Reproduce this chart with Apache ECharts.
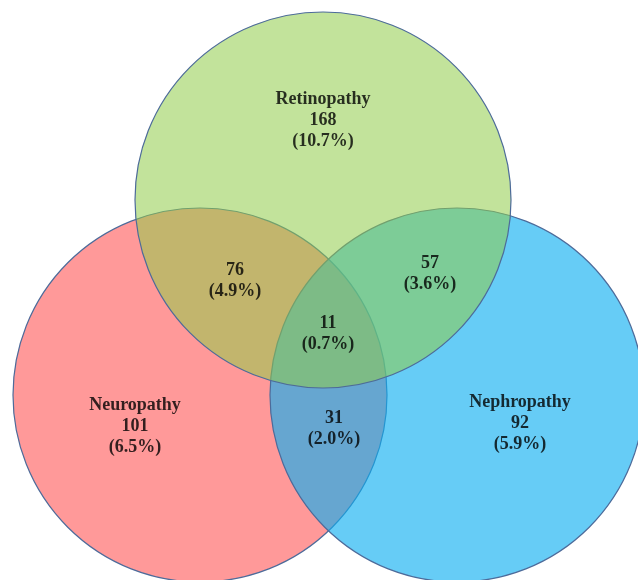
<!DOCTYPE html>
<html>
<head>
<meta charset="utf-8">
<script src="https://cdn.jsdelivr.net/npm/echarts@6/dist/echarts.min.js"></script>
<style>
html,body{margin:0;padding:0;background:#fff;}
#chart{width:638px;height:580px;}
</style>
</head>
<body>
<div id="chart"></div>
<script>
// ---- data ----
const setNames = ['Retinopathy', 'Neuropathy', 'Nephropathy'];
const regionNames = ['Retinopathy', 'Neuropathy', 'Nephropathy', 'Retinopathy∩Neuropathy', 'Retinopathy∩Nephropathy', 'Neuropathy∩Nephropathy', 'All three'];
const regionCounts = [168, 101, 92, 76, 57, 31, 11];
const regionPercents = ['10.7%', '6.5%', '5.9%', '4.9%', '3.6%', '2.0%', '0.7%'];
const regionShowName = [true, true, true, false, false, false, false];

// ---- layout (pixel-like units on hidden axes) ----
const circleLayout = {
  Neuropathy:  { cx: 200, cy: 395, r: 187, color: '#ff9999' },
  Nephropathy: { cx: 457, cy: 395, r: 187, color: 'rgba(13,175,240,0.63)' },
  Retinopathy: { cx: 323, cy: 200, r: 188, color: 'rgba(144,204,73,0.55)' }
};
const drawOrder = ['Neuropathy', 'Nephropathy', 'Retinopathy'];
const labelLayout = [
  [323, 120], [135, 426], [520, 423], [235, 281], [430, 274], [334, 429], [328, 334]
];

const circleData = drawOrder.map(n => {
  const c = circleLayout[n];
  return { name: n, value: [c.cx, c.cy, c.r], itemStyle: { color: c.color } };
});

const labelData = regionNames.map((n, i) => ({
  name: n,
  value: labelLayout[i],
  label: {
    formatter: (regionShowName[i] ? n + '\n' : '') + regionCounts[i] + '\n(' + regionPercents[i] + ')'
  }
}));

const chart = echarts.init(document.getElementById('chart'), null, { renderer: 'canvas' });
chart.setOption({
  backgroundColor: '#ffffff',
  animation: false,
  grid: { left: 0, right: 0, top: 0, bottom: 0, containLabel: false },
  xAxis: { type: 'value', min: 0, max: 638, show: false },
  yAxis: { type: 'value', min: 0, max: 580, inverse: true, show: false },
  series: [
    {
      type: 'custom',
      data: circleData,
      clip: false,
      renderItem: function (params, api) {
        const p = api.coord([api.value(0), api.value(1)]);
        const r = api.size([api.value(2), 0])[0];
        return {
          type: 'circle',
          shape: { cx: p[0], cy: p[1], r: r },
          style: {
            fill: circleData[params.dataIndex].itemStyle.color,
            stroke: '#4d6b9a',
            lineWidth: 1.2
          }
        };
      }
    },
    {
      type: 'scatter',
      symbolSize: 0,
      data: labelData,
      z: 10,
      itemStyle: { color: 'rgba(0,0,0,0)' },
      label: {
        show: true,
        position: 'inside',
        fontFamily: '"Liberation Serif", "Times New Roman", serif',
        fontWeight: 'bold',
        fontSize: 18,
        lineHeight: 21,
        color: '#000000',
        textBorderWidth: 0,
        textBorderColor: 'transparent',
        align: 'center',
        verticalAlign: 'middle'
      }
    }
  ]
});
</script>
</body>
</html>
